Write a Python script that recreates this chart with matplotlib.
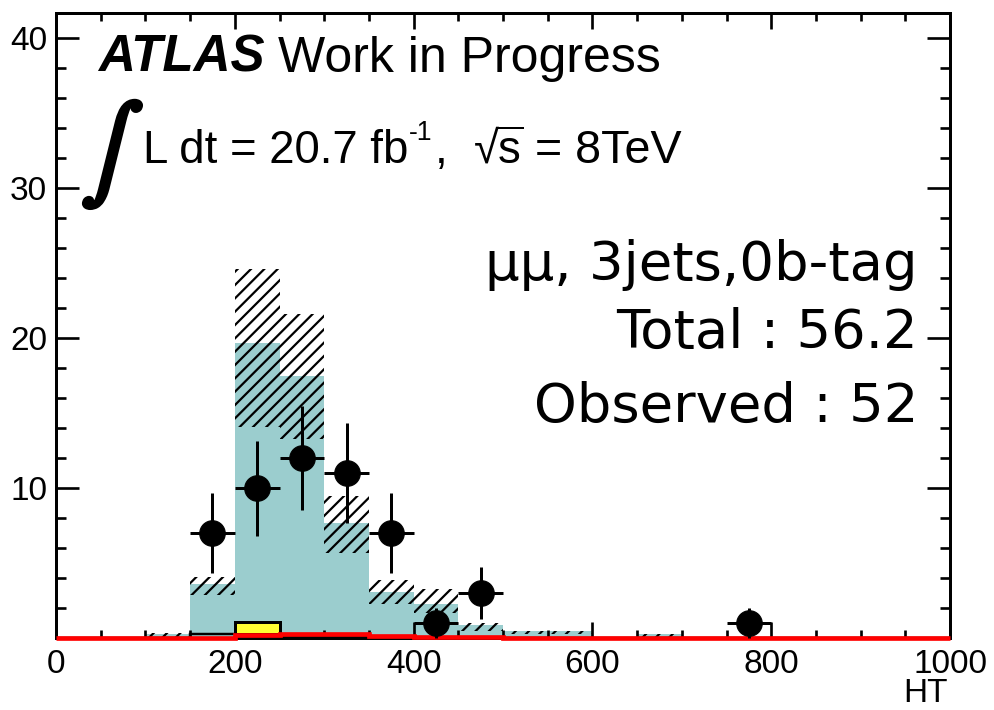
import matplotlib
matplotlib.use('Agg')
import matplotlib.pyplot as plt
import numpy as np
from matplotlib.ticker import MultipleLocator
from matplotlib.lines import Line2D
import matplotlib.patheffects as pe

plt.rcParams['font.family'] = ['Liberation Sans', 'DejaVu Sans']
plt.rcParams['hatch.linewidth'] = 2.0

# HT binning, 50 GeV wide
edges = np.arange(0, 1050, 50)

# stacked prediction (top of stack), with up/down systematic band
total = np.array([0, 0, 0.3, 3.6, 19.7, 17.5, 7.7, 3.1, 2.3, 0.85,
                  0.45, 0.45, 0, 0.25, 0, 0, 0, 0, 0, 0])
err_up = np.array([0, 0, 0.05, 0.5, 4.9, 4.1, 1.8, 0.75, 1.0, 0.15,
                   0.05, 0.05, 0, 0.05, 0, 0, 0, 0, 0, 0])
err_dn = np.array([0, 0, 0.2, 0.7, 5.6, 4.2, 2.0, 0.8, 0.6, 0.35,
                   0.2, 0.2, 0, 0.2, 0, 0, 0, 0, 0, 0])

# small backgrounds
minor_bkg = np.array([0, 0, 0, 0.25, 0.3, 0.05, 0.05, 0, 0, 0,
                      0, 0, 0, 0, 0, 0, 0, 0, 0, 0])
yellow_bkg = np.array([0, 0, 0, 0, 0.75, 0, 0, 0, 0, 0,
                       0, 0, 0, 0, 0, 0, 0, 0, 0, 0])
red_bkg = np.array([0, 0, 0, 0, 0.2, 0.3, 0.3, 0.15, 0.1, 0.1,
                    0, 0, 0, 0, 0, 0, 0, 0, 0, 0])

# observed events
data_x = np.array([175, 225, 275, 325, 375, 425, 475, 775])
data_y = np.array([7, 10, 12, 11, 7, 1, 3, 1])

W, H = 994, 710
DPI = 80
fig = plt.figure(figsize=(W / DPI, H / DPI), dpi=DPI)
ax = fig.add_axes([56 / W, 1 - 638 / H, (950 - 56) / W, (638 - 13) / H])

def fx(x):
    return x / W

def fy(y):
    return 1 - y / H

teal = '#9bcdce'
ax.stairs(total, edges, fill=True, color=teal, linewidth=0, zorder=1)

# systematic band
lo = total - err_dn
band = err_up + err_dn
m = band > 0
ax.bar(edges[:-1][m], band[m], bottom=lo[m], width=50, align='edge',
       facecolor='none', edgecolor='black', hatch='//', linewidth=0, zorder=2)

ax.stairs(minor_bkg, edges, color='black', linewidth=2.2, zorder=3)
m = yellow_bkg > 0
ax.bar(edges[:-1][m], yellow_bkg[m], bottom=minor_bkg[m], width=50, align='edge',
       facecolor='#ffff33', edgecolor='black', linewidth=2.7, zorder=3)
ax.stairs(red_bkg, edges, color='#ff0000', linewidth=4.2, zorder=6, clip_on=False)

ax.errorbar(data_x, data_y, yerr=np.sqrt(data_y), xerr=25, fmt='o', color='black',
            ms=23, elinewidth=2.7, capsize=0, zorder=8, clip_on=False)

ax.set_xlim(0, 1000)
ax.set_ylim(0, 41.7)
ax.set_xticks(np.arange(0, 1001, 200))
ax.xaxis.set_minor_locator(MultipleLocator(50))
ax.set_yticks([10, 20, 30, 40])
ax.yaxis.set_minor_locator(MultipleLocator(2))

for s in ax.spines.values():
    s.set_linewidth(2.7)
ax.tick_params(axis='both', which='both', direction='in', top=True, right=True,
               width=2.4, labelsize=30)
ax.tick_params(axis='x', which='major', length=14.4, pad=10)
ax.tick_params(axis='x', which='minor', length=7)
ax.tick_params(axis='y', which='major', length=20.7, pad=8)
ax.tick_params(axis='y', which='minor', length=9)

fig.text(fx(948), fy(709), 'HT', ha='right', va='bottom', fontsize=30)

fig.text(fx(98), fy(72), 'ATLAS', fontsize=46, fontweight='bold', fontstyle='italic',
         va='baseline')
fig.text(fx(278), fy(72), 'Work in Progress', fontsize=45, va='baseline')

# luminosity line
fig.text(fx(112), fy(155), r'$\int$', fontsize=84, math_fontfamily='stix',
         ha='center', va='center',
         path_effects=[pe.withStroke(linewidth=4, foreground='black')])
r = fig.canvas.get_renderer()
t1 = fig.text(fx(143), fy(163), 'L dt = 20.7 fb', fontsize=41, va='baseline')
x1 = t1.get_window_extent(r).x1
t2 = fig.text((x1 + 1) / W, fy(140), '-1', fontsize=24, va='baseline')
x2 = t2.get_window_extent(r).x1
fig.text((x2 + 2) / W, fy(163), ',', fontsize=41, va='baseline')
ts = fig.text(fx(474), fy(163), '√s', fontsize=41, va='baseline')
bs = ts.get_window_extent(r)
fig.add_artist(Line2D([(bs.x1 - 25) / W, (bs.x1 + 1) / W], [fy(128), fy(128)],
                      color='black', linewidth=1.8))
fig.text(fx(535), fy(163), '= 8TeV', fontsize=42, va='baseline')

rt = dict(fontsize=49, family='DejaVu Sans', ha='right', va='baseline')
fig.text(fx(918), fy(280), 'μμ, 3jets,0b-tag', **rt)
fig.text(fx(918), fy(348), 'Total : %.1f' % total.sum(), **rt)
fig.text(fx(918), fy(422), 'Observed : %d' % data_y.sum(), **rt)

fig.savefig('out.png', dpi=DPI)
